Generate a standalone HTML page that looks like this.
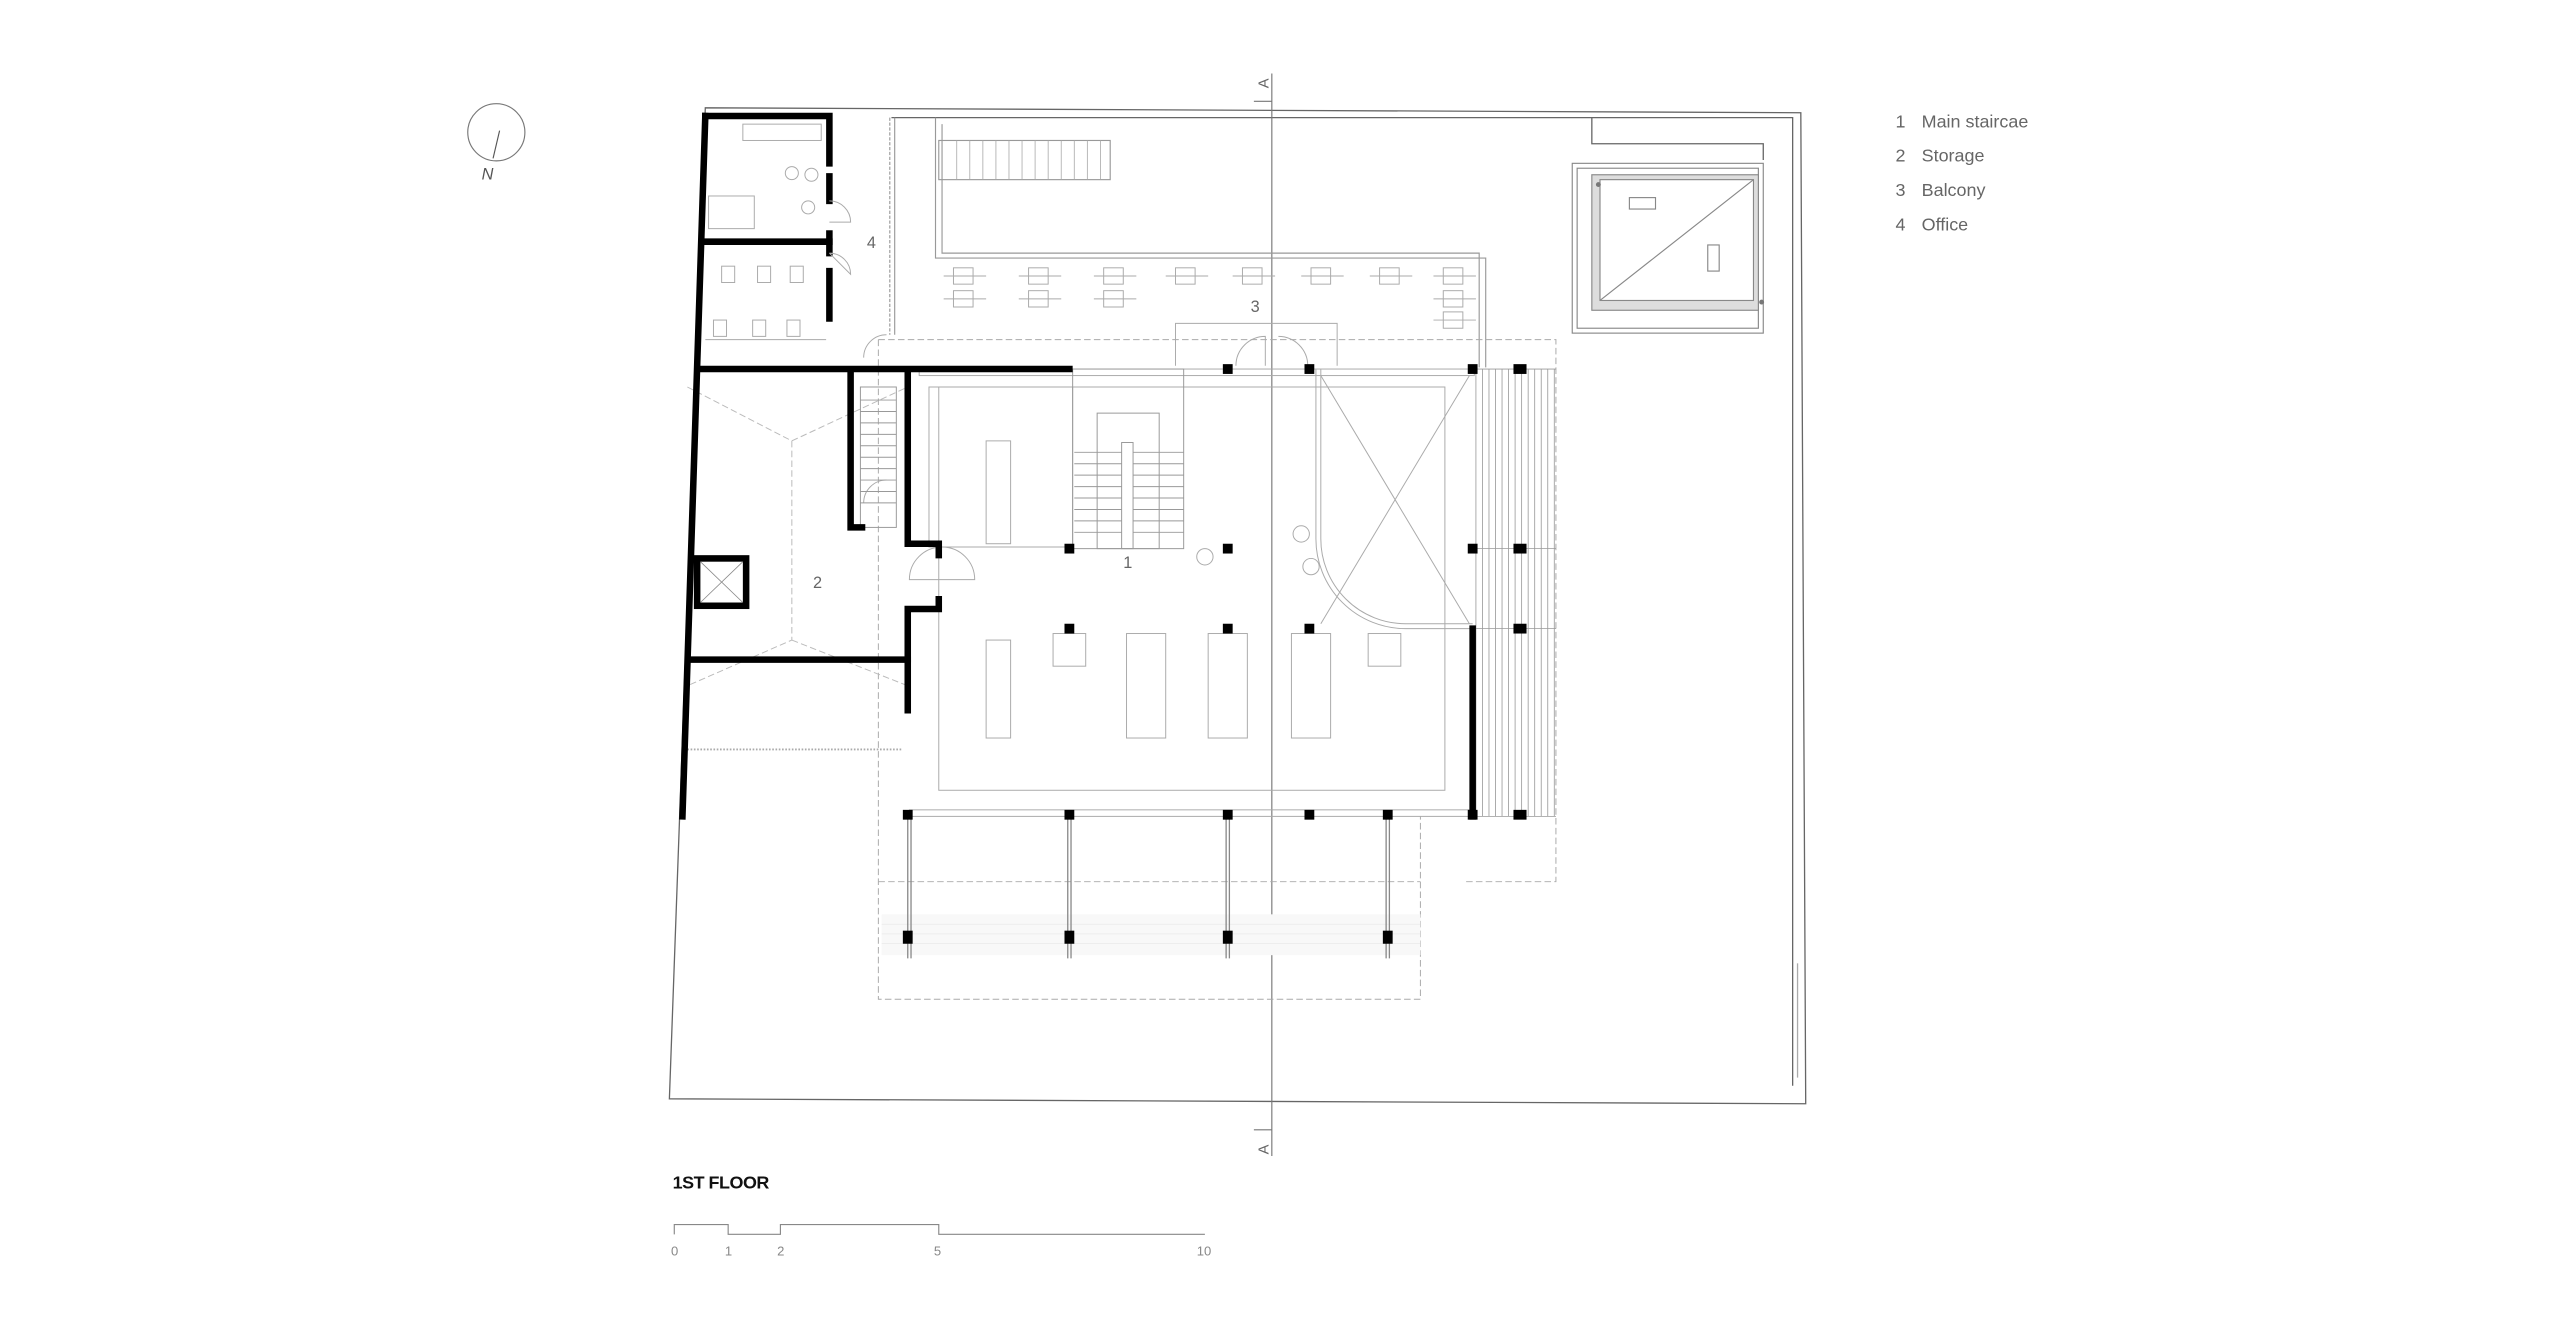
<!DOCTYPE html>
<html><head><meta charset="utf-8"><style>
html,body{margin:0;padding:0;background:#fff;}
svg{display:block;}
text{font-family:"Liberation Sans",sans-serif;}
</style></head><body>
<svg width="2560" height="1334" viewBox="0 0 1568 817" xmlns="http://www.w3.org/2000/svg">
<rect width="1568" height="817" fill="#fff"/>
<!-- compass -->
<circle cx="304" cy="81" r="17.5" fill="none" stroke="#777" stroke-width="0.7"/>
<line x1="306" y1="80" x2="302" y2="97" stroke="#555" stroke-width="0.7"/>
<text x="295" y="110" font-size="10" fill="#555" font-style="italic">N</text>

<!-- site outline -->
<g fill="none" stroke="#666" stroke-width="0.8">
<path d="M432,66 L1103,69 L1106,676 L410,673 Z"/>
<path d="M546,72 L1098,72 L1098,665"/>
<path d="M975,72 L975,88 L1080,88 L1080,98"/>
<line x1="1101" y1="590" x2="1101" y2="660" stroke="#aaa"/>
</g>
<!-- section line -->
<line x1="779" y1="45" x2="779" y2="708" stroke="#777" stroke-width="0.7"/>
<line x1="768" y1="62" x2="779" y2="62" stroke="#777" stroke-width="0.7"/>
<line x1="768" y1="692" x2="779" y2="692" stroke="#777" stroke-width="0.7"/>
<text x="0" y="0" font-size="9" fill="#666" transform="translate(777,54) rotate(-90)">A</text>
<text x="0" y="0" font-size="9" fill="#666" transform="translate(777,707) rotate(-90)">A</text>

<!-- balcony -->
<g fill="none" stroke="#999" stroke-width="0.7">
<path d="M573,72 L573,158 L910,158 L910,225"/>
<path d="M577,76 L577,155 L906,155 L906,225"/>
<rect x="575" y="86" width="105" height="24"/>
<path d="M548,72 L548,205"/>
<path d="M545,72 L545,205" stroke-dasharray="2,1"/>
</g>
<g stroke="#aaa" stroke-width="0.5">
<line x1="586" y1="86" x2="586" y2="110"/><line x1="594" y1="86" x2="594" y2="110"/><line x1="602" y1="86" x2="602" y2="110"/><line x1="610" y1="86" x2="610" y2="110"/><line x1="618" y1="86" x2="618" y2="110"/><line x1="626" y1="86" x2="626" y2="110"/><line x1="634" y1="86" x2="634" y2="110"/><line x1="642" y1="86" x2="642" y2="110"/><line x1="650" y1="86" x2="650" y2="110"/><line x1="658" y1="86" x2="658" y2="110"/><line x1="666" y1="86" x2="666" y2="110"/><line x1="674" y1="86" x2="674" y2="110"/>
</g>
<!-- tables -->
<g fill="none" stroke="#aaa" stroke-width="0.6">
<rect x="584" y="164" width="12" height="10"/><rect x="584" y="178" width="12" height="10"/>
<rect x="630" y="164" width="12" height="10"/><rect x="630" y="178" width="12" height="10"/>
<rect x="676" y="164" width="12" height="10"/><rect x="676" y="178" width="12" height="10"/>
<rect x="720" y="164" width="12" height="10"/>
<rect x="761" y="164" width="12" height="10"/><rect x="803" y="164" width="12" height="10"/>
<rect x="845" y="164" width="12" height="10"/><rect x="884" y="164" width="12" height="10"/>
<rect x="884" y="178" width="12" height="10"/><rect x="884" y="191" width="12" height="10"/>
<line x1="578" y1="169" x2="604" y2="169"/><line x1="578" y1="183" x2="604" y2="183"/>
<line x1="624" y1="169" x2="650" y2="169"/><line x1="624" y1="183" x2="650" y2="183"/>
<line x1="670" y1="169" x2="696" y2="169"/><line x1="670" y1="183" x2="696" y2="183"/>
<line x1="714" y1="169" x2="740" y2="169"/><line x1="755" y1="169" x2="781" y2="169"/>
<line x1="797" y1="169" x2="823" y2="169"/><line x1="839" y1="169" x2="865" y2="169"/>
<line x1="878" y1="169" x2="904" y2="169"/><line x1="878" y1="183" x2="904" y2="183"/><line x1="878" y1="196" x2="904" y2="196"/>
<path d="M720,224 L720,198 L819,198 L819,224"/>
<path d="M757,224 A18,18 0 0 1 775,206 L775,224"/>
<path d="M801,224 A18,18 0 0 0 783,206"/>
</g>
<text x="766" y="191" font-size="10" fill="#666">3</text>

<!-- pool -->
<g fill="none" stroke="#888" stroke-width="0.7">
<rect x="963" y="100" width="117" height="104"/>
<rect x="966" y="103" width="111" height="98"/>
<rect x="975" y="107" width="102" height="83" fill="#ddd" stroke="#888"/>
<rect x="980" y="110" width="94" height="74" fill="#fff"/>
<line x1="980" y1="184" x2="1074" y2="110"/>
<rect x="998" y="121" width="16" height="7"/><rect x="1046" y="150" width="7" height="16"/>
</g>
<circle cx="979" cy="113" r="1.5" fill="#777"/><circle cx="1079" cy="185" r="1.5" fill="#777"/>

<!-- dashed outlines -->
<g fill="none" stroke="#aaa" stroke-width="0.6" stroke-dasharray="4,2">
<path d="M538,208 L953,208 L953,540 L898,540"/>
<path d="M538,208 L538,612 L870,612 L870,500"/>
<line x1="538" y1="540" x2="870" y2="540"/>
<path d="M421,237 L485,270 L556,237" stroke="#bbb"/>
<path d="M485,270 L485,392 L421,420" stroke="#bbb"/>
<path d="M485,392 L556,420" stroke="#bbb"/>
</g>
<line x1="421" y1="459" x2="553" y2="459" stroke="#aaa" stroke-width="1.2" stroke-dasharray="1,1"/>

<!-- main interior -->
<g fill="none" stroke="#aaa" stroke-width="0.6">
<rect x="575" y="237" width="310" height="247"/>
<rect x="569" y="237" width="88" height="98"/>
<rect x="604" y="270" width="15" height="63"/>
<rect x="604" y="392" width="15" height="60"/>
<rect x="690" y="388" width="24" height="64"/>
<rect x="740" y="388" width="24" height="64"/>
<rect x="791" y="388" width="24" height="64"/>
<rect x="645" y="388" width="20" height="20"/>
<rect x="838" y="388" width="20" height="20"/>
<rect x="563" y="226" width="340" height="4"/>
<rect x="557" y="496" width="345" height="4"/>
<path d="M806,226 L806,330 A55,55 0 0 0 861,385 L902,385"/>
<path d="M809,226 L809,330 A52,52 0 0 0 861,382 L902,382"/>
<line x1="809" y1="230" x2="900" y2="382"/>
<line x1="900" y1="230" x2="809" y2="382"/>
<circle cx="797" cy="327" r="5"/><circle cx="803" cy="347" r="5"/><circle cx="738" cy="341" r="5"/>
<path d="M557,355 A20,20 0 0 1 597,355 Z"/>
<path d="M529,308 A14,14 0 0 1 543,294" />
</g>
<!-- central stair -->
<g fill="none" stroke="#999" stroke-width="0.6">
<rect x="657" y="226" width="68" height="110"/>
<rect x="672" y="253" width="38" height="83"/>
<rect x="687" y="271" width="7" height="65"/>
<line x1="658" y1="277" x2="687" y2="277"/><line x1="658" y1="284" x2="687" y2="284"/><line x1="658" y1="291" x2="687" y2="291"/><line x1="658" y1="298" x2="687" y2="298"/><line x1="658" y1="305" x2="687" y2="305"/><line x1="658" y1="312" x2="687" y2="312"/><line x1="658" y1="319" x2="687" y2="319"/><line x1="658" y1="326" x2="687" y2="326"/>
<line x1="694" y1="277" x2="725" y2="277"/><line x1="694" y1="284" x2="725" y2="284"/><line x1="694" y1="291" x2="725" y2="291"/><line x1="694" y1="298" x2="725" y2="298"/><line x1="694" y1="305" x2="725" y2="305"/><line x1="694" y1="312" x2="725" y2="312"/><line x1="694" y1="319" x2="725" y2="319"/><line x1="694" y1="326" x2="725" y2="326"/>
<rect x="527" y="237" width="22" height="86"/>
<line x1="527" y1="245" x2="549" y2="245"/><line x1="527" y1="252" x2="549" y2="252"/><line x1="527" y1="259" x2="549" y2="259"/><line x1="527" y1="266" x2="549" y2="266"/><line x1="527" y1="273" x2="549" y2="273"/><line x1="527" y1="280" x2="549" y2="280"/><line x1="527" y1="287" x2="549" y2="287"/><line x1="527" y1="294" x2="549" y2="294"/><line x1="527" y1="301" x2="549" y2="301"/><line x1="527" y1="308" x2="549" y2="308"/>
</g>
<text x="688" y="348" font-size="10" fill="#666">1</text>
<text x="498" y="360" font-size="10" fill="#666">2</text>
<text x="531" y="152" font-size="10" fill="#666">4</text>

<!-- right deck -->
<g stroke="#999" stroke-width="0.5">
<line x1="904" y1="226" x2="904" y2="500"/><line x1="908" y1="226" x2="908" y2="500"/><line x1="912" y1="226" x2="912" y2="500"/><line x1="916" y1="226" x2="916" y2="500"/><line x1="920" y1="226" x2="920" y2="500"/><line x1="924" y1="226" x2="924" y2="500"/><line x1="928" y1="226" x2="928" y2="500"/><line x1="932" y1="226" x2="932" y2="500"/><line x1="936" y1="226" x2="936" y2="500"/><line x1="940" y1="226" x2="940" y2="500"/><line x1="944" y1="226" x2="944" y2="500"/><line x1="948" y1="226" x2="948" y2="500"/><line x1="952" y1="226" x2="952" y2="500"/>
<line x1="902" y1="336" x2="953" y2="336"/><line x1="902" y1="385" x2="953" y2="385"/><line x1="902" y1="226" x2="953" y2="226"/><line x1="902" y1="500" x2="953" y2="500"/>
</g>
<!-- lower band -->
<rect x="540" y="560" width="330" height="25" fill="#f8f8f8"/>
<g stroke="#e6e6e6" stroke-width="0.4">
<line x1="540" y1="566" x2="870" y2="566"/><line x1="540" y1="572" x2="870" y2="572"/><line x1="540" y1="578" x2="870" y2="578"/>
</g>
<g stroke="#888" stroke-width="0.8">
<line x1="556" y1="500" x2="556" y2="587"/><line x1="558" y1="500" x2="558" y2="587"/>
<line x1="654" y1="500" x2="654" y2="587"/><line x1="656" y1="500" x2="656" y2="587"/>
<line x1="751" y1="500" x2="751" y2="587"/><line x1="753" y1="500" x2="753" y2="587"/>
<line x1="849" y1="500" x2="849" y2="587"/><line x1="851" y1="500" x2="851" y2="587"/>
</g>

<!-- thick walls -->
<g fill="none" stroke="#000" stroke-width="4" stroke-linecap="square">
<path d="M432,71 L418,500"/>
<path d="M432,71 L508,71 L508,100"/>
<line x1="508" y1="108" x2="508" y2="123"/>
<line x1="430" y1="148" x2="508" y2="148"/>
<line x1="508" y1="143" x2="508" y2="155"/>
<line x1="508" y1="166" x2="508" y2="195"/>
<line x1="428" y1="226" x2="655" y2="226"/>
<path d="M521,228 L521,323 L528,323"/>
<path d="M556,228 L556,333 L575,333 L575,340"/>
<path d="M575,367 L575,373 L556,373 L556,435"/>
<line x1="422" y1="404" x2="556" y2="404"/>
<line x1="902" y1="385" x2="902" y2="500"/>
<rect x="427" y="342" width="30" height="29"/>
</g>
<g stroke="#888" stroke-width="0.5"><line x1="429" y1="344" x2="455" y2="369"/><line x1="455" y1="344" x2="429" y2="369"/></g>
<!-- office interior -->
<g fill="none" stroke="#aaa" stroke-width="0.6">
<rect x="455" y="76" width="48" height="10"/>
<rect x="434" y="120" width="28" height="20"/>
<circle cx="485" cy="106" r="4"/><circle cx="497" cy="107" r="4"/><circle cx="495" cy="127" r="4"/>
<rect x="442" y="163" width="8" height="10"/><rect x="464" y="163" width="8" height="10"/><rect x="484" y="163" width="8" height="10"/>
<rect x="437" y="196" width="8" height="10"/><rect x="461" y="196" width="8" height="10"/><rect x="482" y="196" width="8" height="10"/>
<path d="M508,123 A13,13 0 0 1 521,136 L508,136"/>
<path d="M508,155 A13,13 0 0 1 521,168 L508,155"/>
<path d="M529,219 A14,14 0 0 1 543,205"/>
<line x1="432" y1="208" x2="506" y2="208"/>
</g>
<!-- columns -->
<g fill="#000">
<rect x="749" y="223" width="6" height="6"/><rect x="799" y="223" width="6" height="6"/><rect x="899" y="223" width="6" height="6"/><rect x="927" y="223" width="8" height="6"/>
<rect x="652" y="333" width="6" height="6"/><rect x="749" y="333" width="6" height="6"/><rect x="899" y="333" width="6" height="6"/><rect x="927" y="333" width="8" height="6"/>
<rect x="652" y="382" width="6" height="6"/><rect x="749" y="382" width="6" height="6"/><rect x="799" y="382" width="6" height="6"/><rect x="927" y="382" width="8" height="6"/>
<rect x="553" y="496" width="6" height="6"/><rect x="652" y="496" width="6" height="6"/><rect x="749" y="496" width="6" height="6"/><rect x="799" y="496" width="6" height="6"/><rect x="847" y="496" width="6" height="6"/><rect x="899" y="496" width="6" height="6"/><rect x="927" y="496" width="8" height="6"/>
<rect x="553" y="570" width="6" height="8"/><rect x="652" y="570" width="6" height="8"/><rect x="749" y="570" width="6" height="8"/><rect x="847" y="570" width="6" height="8"/>
</g>

<!-- legend -->
<g font-size="11" fill="#666">
<text x="1161" y="78">1</text><text x="1177" y="78">Main staircae</text>
<text x="1161" y="99">2</text><text x="1177" y="99">Storage</text>
<text x="1161" y="120">3</text><text x="1177" y="120">Balcony</text>
<text x="1161" y="141">4</text><text x="1177" y="141">Office</text>
</g>
<!-- title & scale -->
<text x="412" y="728" font-size="11" fill="#111" font-weight="bold" letter-spacing="-0.3">1ST FLOOR</text>
<path d="M413,756 L413,750 L446,750 L446,756 L478,756 L478,750 L575,750 L575,756 L738,756" fill="none" stroke="#888" stroke-width="0.7"/>
<g font-size="8" fill="#888">
<text x="411" y="769">0</text><text x="444" y="769">1</text><text x="476" y="769">2</text><text x="572" y="769">5</text><text x="733" y="769">10</text>
</g>
</svg>
</body></html>
